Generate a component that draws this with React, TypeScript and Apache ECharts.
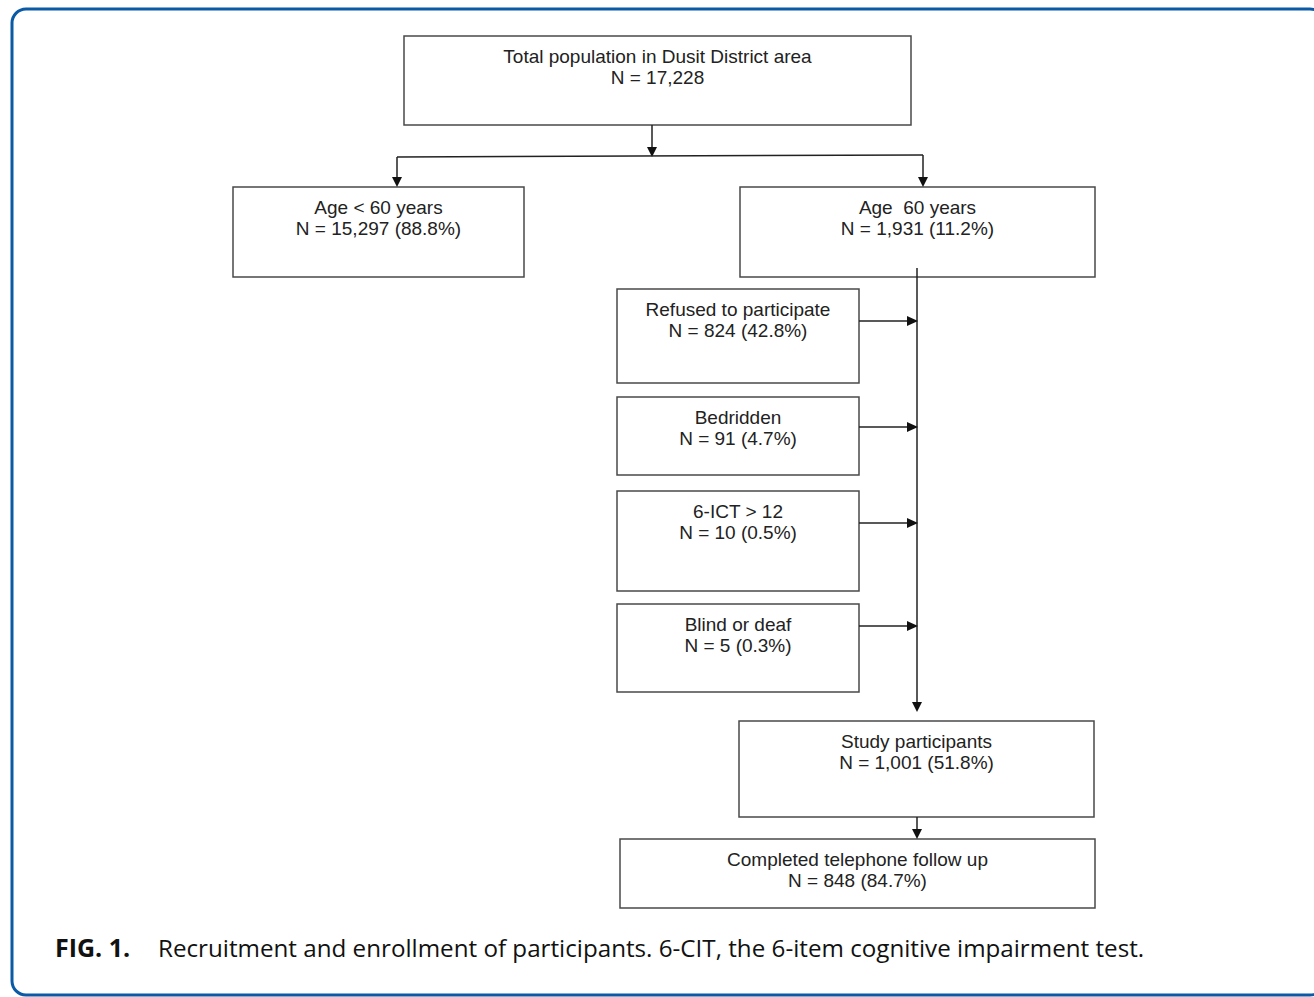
import React, { useEffect, useRef } from "react";
import * as echarts from "echarts";

// Box texts (two lines each)
const boxTitles = [
  "Total population in Dusit District area",
  "Age < 60 years",
  "Age  60 years",
  "Refused to participate",
  "Bedridden",
  "6-ICT > 12",
  "Blind or deaf",
  "Study participants",
  "Completed telephone follow up",
];
const boxCounts = [
  "N = 17,228",
  "N = 15,297 (88.8%)",
  "N = 1,931 (11.2%)",
  "N = 824 (42.8%)",
  "N = 91 (4.7%)",
  "N = 10 (0.5%)",
  "N = 5 (0.3%)",
  "N = 1,001 (51.8%)",
  "N = 848 (84.7%)",
];
const captionLabel = "FIG. 1.";
const captionText =
  "Recruitment and enrollment of participants. 6-CIT, the 6-item cognitive impairment test.";

// Layout: [x, y, width, height]
const boxLayout: number[][] = [
  [404, 36, 507, 89],
  [233, 187, 291, 90],
  [740, 187, 355, 90],
  [617, 289, 242, 94],
  [617, 397, 242, 78],
  [617, 491, 242, 100],
  [617, 604, 242, 88],
  [739, 721, 355, 96],
  [620, 839, 475, 69],
];

const LINE = "#4a4a4a";
const TXT = "#222";

function arrowDown(x: number, y: number): any {
  return {
    type: "polygon",
    shape: { points: [[x - 5, y - 10], [x + 5, y - 10], [x, y]] },
    style: { fill: "#111" },
  };
}
function arrowRight(x: number, y: number): any {
  return {
    type: "polygon",
    shape: { points: [[x - 11, y - 5], [x - 11, y + 5], [x, y]] },
    style: { fill: "#111" },
  };
}
function seg(x1: number, y1: number, x2: number, y2: number): any {
  return {
    type: "line",
    shape: { x1, y1, x2, y2 },
    style: { stroke: "#222", lineWidth: 1.5 },
  };
}

export default function App() {
  const ref = useRef<HTMLDivElement>(null);
  useEffect(() => {
    if (!ref.current) return;
    const chart = echarts.init(ref.current, undefined, { renderer: "svg" });
    const els: any[] = [];
    // outer blue frame
    els.push({
      type: "rect",
      shape: { x: 12, y: 9, width: 1312, height: 986, r: 14 },
      style: { fill: "#fff", stroke: "#0b5aa6", lineWidth: 3 },
    });
    boxLayout.forEach((b, i) => {
      const [x, y, w, h] = b;
      els.push({
        type: "rect",
        shape: { x, y, width: w, height: h },
        style: { fill: "#fff", stroke: LINE, lineWidth: 1.5 },
      });
      els.push({
        type: "text",
        x: x + w / 2,
        y: y + 10,
        style: {
          text: boxTitles[i] + "\n" + boxCounts[i],
          fill: TXT,
          font: "19px 'Liberation Sans', Arial, sans-serif",
          align: "center",
          verticalAlign: "top",
          lineHeight: 21,
        },
      });
    });
    // connectors
    els.push(seg(652, 125, 652, 150));
    els.push(arrowDown(652, 157));
    els.push(seg(397, 157, 923, 155));
    els.push(seg(397, 157, 397, 178));
    els.push(arrowDown(397, 187));
    els.push(seg(923, 155, 923, 178));
    els.push(arrowDown(923, 187));
    els.push(seg(917, 268, 917, 703));
    els.push(arrowDown(917, 712));
    [321, 427, 523, 626].forEach((yy) => {
      els.push(seg(859, yy, 908, yy));
      els.push(arrowRight(918, yy));
    });
    els.push(seg(917, 817, 917, 830));
    els.push(arrowDown(917, 839));
    // caption
    els.push({
      type: "text",
      x: 55,
      y: 947,
      style: {
        text: captionLabel,
        fill: "#111",
        font: "bold 25px 'Open Sans', sans-serif",
        verticalAlign: "middle",
      },
    });
    els.push({
      type: "text",
      x: 158,
      y: 947,
      style: {
        text: captionText,
        fill: "#111",
        font: "24.2px 'Open Sans', sans-serif",
        verticalAlign: "middle",
      },
    });
    chart.setOption({
      animation: false,
      backgroundColor: "#fff",
      graphic: { elements: els },
    });
    return () => chart.dispose();
  }, []);
  return (
    <div
      ref={ref}
      style={{ position: "fixed", left: 0, top: 0, width: 1314, height: 997 }}
    />
  );
}
